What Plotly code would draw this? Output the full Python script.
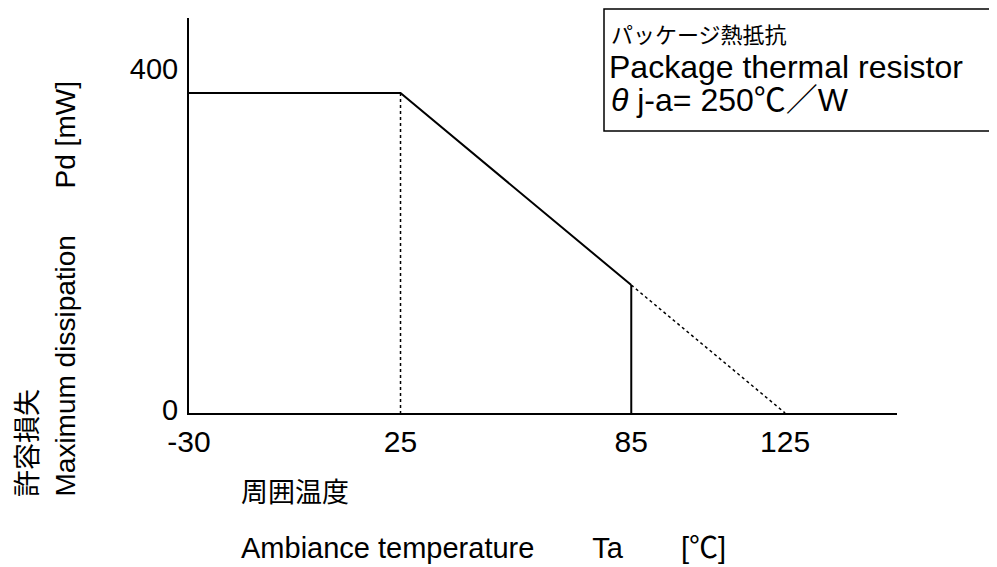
import plotly.graph_objects as go

# Data
temps = [-30, 25, 85, 125]
pd_mw = [375, 375, 150, 0]
x_ticks = [-30, 25, 85, 125]
y_ticks = [0, 400]

# the page body has an 8px margin, so the figure is laid out 8px left/up
OFF = 8
W, H = 997 - OFF, 567 - OFF
L, R, T, B = 189 - OFF, 897 - OFF, 18 - OFF, 413 - OFF  # plot area in figure px

def px_x(p):
    return (p - OFF - L) / (R - L)

def px_y(p):
    return (B - (p - OFF)) / (B - T)

FONT = "Arial, Liberation Sans, Noto Sans CJK JP"

fig = go.Figure()
# solid derating curve
fig.add_trace(go.Scatter(x=temps[:3], y=pd_mw[:3], mode="lines",
                         line=dict(color="black", width=2), hoverinfo="skip"))
# solid vertical at 85
fig.add_trace(go.Scatter(x=[temps[2], temps[2]], y=[pd_mw[2], 0], mode="lines",
                         line=dict(color="black", width=2), hoverinfo="skip"))
# dotted vertical at 25
fig.add_trace(go.Scatter(x=[temps[1], temps[1]], y=[pd_mw[1], 0], mode="lines",
                         line=dict(color="black", width=1.5, dash="dot"), hoverinfo="skip"))
# dotted extension to 125
fig.add_trace(go.Scatter(x=temps[2:], y=pd_mw[2:], mode="lines",
                         line=dict(color="black", width=1.5, dash="dot"), hoverinfo="skip"))

fig.update_layout(
    width=W, height=H,
    margin=dict(l=L, r=W - R, t=T, b=H - B),
    paper_bgcolor="white", plot_bgcolor="white",
    showlegend=False,
    font=dict(family=FONT, color="black", size=28),
    xaxis=dict(range=[-30, 154.1], tickvals=x_ticks, ticktext=[str(v) for v in x_ticks],
               showline=True, linecolor="black", linewidth=2, showgrid=False,
               zeroline=False, ticks="", ticklabelstandoff=1,
               tickfont=dict(size=30, family=FONT, color="black")),
    yaxis=dict(range=[0, 463], tickvals=y_ticks, ticktext=[str(v) for v in y_ticks],
               showline=True, linecolor="black", linewidth=2, showgrid=False,
               zeroline=False, ticks="", ticklabelstandoff=3, ticklabelshift=-3,
               tickfont=dict(size=29, family=FONT, color="black")),
)

# legend-like box
fig.add_shape(type="rect", xref="paper", yref="paper",
              x0=px_x(604), x1=px_x(1010), y0=px_y(131), y1=px_y(9),
              line=dict(color="black", width=1.5), fillcolor="rgba(0,0,0,0)")

def ann(text, xp, yp, size, xanchor="left", yanchor="middle", angle=0):
    fig.add_annotation(text=text, xref="paper", yref="paper", x=px_x(xp), y=px_y(yp),
                       xanchor=xanchor, yanchor=yanchor, textangle=angle, showarrow=False,
                       font=dict(size=size, family=FONT, color="black"))

ann("パッケージ熱抵抗", 609, 35, 22)
ann("Package thermal resistor", 607, 67, 32)
ann("<i>θ</i> j-a= 250℃／W", 609, 100, 32)

ann("周囲温度", 239, 493, 27)
ann("Ambiance temperature　　Ta　　[℃]", 239, 548, 29)

ann("Maximum dissipation\u00a0\u00a0\u00a0\u00a0\u00a0\u00a0Pd [mW]", 65, 499, 28,
    xanchor="center", yanchor="bottom", angle=-90)
ann("許容損失", 28, 499, 27, xanchor="center", yanchor="bottom", angle=-90)

fig.write_html("out.html")
